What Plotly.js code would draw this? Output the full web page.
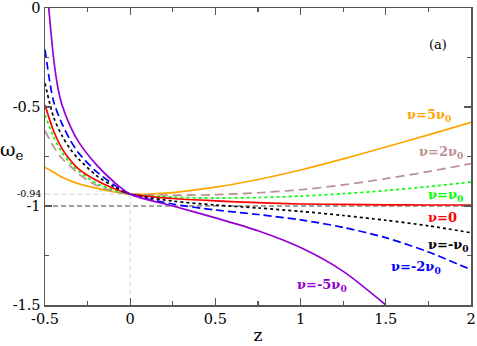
<!DOCTYPE html>
<html>
<head>
<meta charset="utf-8">
<script src="https://cdn.plot.ly/plotly-3.0.1.min.js"></script>
<style>
  html, body { margin: 0; padding: 0; background: #fff; }
  #chart { width: 477px; height: 346px; }
</style>
</head>
<body>
<div id="chart"></div>
<script>
'use strict';

/* global Plotly */

// redshift samples
const z = [-0.5, -0.45, -0.4, -0.35, -0.3, -0.2, -0.1, 0, 0.25, 0.5, 0.75, 1, 1.25, 1.5, 1.75, 2];

const omegaNu5 = [-0.805, -0.83, -0.855, -0.873, -0.888, -0.91, -0.928, -0.94, -0.932, -0.905, -0.866, -0.818, -0.762, -0.702, -0.641, -0.578];
const omegaNu2 = [-0.62, -0.7, -0.76, -0.8, -0.84, -0.895, -0.925, -0.94, -0.945, -0.943, -0.933, -0.918, -0.893, -0.862, -0.826, -0.786];
const omegaNu1 = [-0.54, -0.65, -0.73, -0.785, -0.825, -0.885, -0.918, -0.94, -0.955, -0.96, -0.957, -0.95, -0.938, -0.922, -0.902, -0.879];
const omegaNu0 = [-0.49, -0.62, -0.71, -0.77, -0.815, -0.87, -0.91, -0.94, -0.962, -0.974, -0.983, -0.99, -0.992, -0.994, -0.995, -0.995];
const omegaNuM1 = [-0.38, -0.55, -0.645, -0.715, -0.765, -0.845, -0.9, -0.94, -0.975, -0.995, -1.01, -1.027, -1.048, -1.072, -1.1, -1.135];
const omegaNuM2 = [-0.21, -0.47, -0.585, -0.67, -0.735, -0.825, -0.89, -0.94, -0.99, -1.02, -1.043, -1.07, -1.108, -1.16, -1.232, -1.322];

// the nu = -5 nu0 curve leaves the frame, so it has its own samples
const zNuM5 = [-0.478, -0.45, -0.425, -0.4, -0.35, -0.3, -0.2, -0.1, 0, 0.25, 0.5, 0.75, 1, 1.25, 1.5];
const omegaNuM5 = [0, -0.25, -0.4, -0.49, -0.6, -0.68, -0.79, -0.875, -0.94, -1.0, -1.06, -1.125, -1.21, -1.33, -1.5];

const curveLabels = ['ν=5ν<sub>0</sub>', 'ν=2ν<sub>0</sub>', 'ν=ν<sub>0</sub>', 'ν=0', 'ν=-ν<sub>0</sub>', 'ν=-2ν<sub>0</sub>', 'ν=-5ν<sub>0</sub>'];
const labelZ = [1.615, 1.685, 1.735, 1.735, 1.735, 1.52, 0.97];
const labelOmega = [-0.545, -0.73, -0.945, -1.06, -1.2, -1.31, -1.40];

const xTickVals = [-0.5, 0, 0.5, 1, 1.5, 2];
const xTickText = ['-0.5', '0', '0.5', '1', '1.5', '2'];
const yTickVals = [0, -0.5, -1, -1.5];
const yTickText = ['0', '-0.5', '-1', '-1.5'];

const omegaToday = -0.94;
const omegaLambda = -1;

const serif = 'DejaVu Serif, serif';

const styles = [
  {color: '#ffa500', dash: 'solid'},
  {color: '#bc8f8f', dash: '9px,5px'},
  {color: '#00ff00', dash: 'dot'},
  {color: '#ff0000', dash: 'solid'},
  {color: '#000000', dash: 'dot'},
  {color: '#0000ff', dash: '8px,4px'},
  {color: '#9400d3', dash: 'solid'}
];

const series = [
  [z, omegaNu5],
  [z, omegaNu2],
  [z, omegaNu1],
  [z, omegaNu0],
  [z, omegaNuM1],
  [z, omegaNuM2],
  [zNuM5, omegaNuM5]
];

const data = series.map(([xs, ys], i) => ({
  x: xs,
  y: ys,
  type: 'scatter',
  mode: 'lines',
  line: {color: styles[i].color, dash: styles[i].dash, width: 1.7, shape: 'spline', smoothing: 0.8},
  hoverinfo: 'skip'
}));

const annotations = curveLabels.map((text, i) => ({
  x: labelZ[i],
  y: labelOmega[i],
  xref: 'x',
  yref: 'y',
  text: '<b>' + text + '</b>',
  showarrow: false,
  xanchor: 'left',
  yanchor: 'middle',
  font: {family: serif, size: 13, color: styles[i].color}
}));

annotations.push(
  {x: 1.807, y: -0.185, xref: 'x', yref: 'y', text: '(a)', showarrow: false,
    font: {family: serif, size: 13, color: '#000'}},
  {x: 0, y: omegaToday, xref: 'paper', yref: 'y', text: '-0.94', showarrow: false,
    xanchor: 'right', xshift: -2, yshift: 1, font: {family: serif, size: 9.5, color: '#000'}},
  {x: -0.077, y: -0.72, xref: 'paper', yref: 'y', text: 'ω<sub>e</sub>', showarrow: false,
    xanchor: 'center', font: {family: serif, size: 19, color: '#000'}}
);

const shapes = [
  {type: 'line', xref: 'paper', yref: 'y', x0: 0, x1: 1, y0: omegaLambda, y1: omegaLambda,
    line: {color: '#444', width: 1.2, dash: '5px,3px'}, layer: 'below'},
  {type: 'line', xref: 'x', yref: 'y', x0: -0.5, x1: 0, y0: omegaToday, y1: omegaToday,
    line: {color: '#dcdcdc', width: 1.2, dash: '5px,3px'}, layer: 'below'},
  {type: 'line', xref: 'x', yref: 'y', x0: 0, x1: 0, y0: omegaToday, y1: -1.5,
    line: {color: '#dcdcdc', width: 1.2, dash: '5px,3px'}, layer: 'below'}
];

const axisCommon = {
  showgrid: false,
  zeroline: false,
  showline: true,
  linecolor: '#555',
  linewidth: 1.5,
  mirror: 'ticks',
  ticks: 'inside',
  ticklen: 7,
  tickwidth: 1.2,
  tickcolor: '#555',
  tickmode: 'array',
  tickfont: {family: serif, size: 14.5, color: '#000'}
};

const layout = {
  width: 477,
  height: 346,
  margin: {l: 45, r: 6, t: 8, b: 41},
  paper_bgcolor: '#fff',
  plot_bgcolor: '#fff',
  showlegend: false,
  font: {family: serif},
  xaxis: Object.assign({}, axisCommon, {
    range: [-0.5, 2],
    tickvals: xTickVals,
    ticktext: xTickText,
    minor: {tick0: -0.5, dtick: 0.25, ticks: 'inside', ticklen: 4, tickcolor: '#555', showgrid: false},
    title: {text: 'z', font: {family: serif, size: 17, color: '#000'}, standoff: 3}
  }),
  yaxis: Object.assign({}, axisCommon, {
    range: [-1.5, 0],
    tickvals: yTickVals,
    ticktext: yTickText,
    minor: {tick0: 0, dtick: 0.25, ticks: 'inside', ticklen: 4, tickcolor: '#555', showgrid: false}
  }),
  shapes,
  annotations
};

Plotly.newPlot('chart', data, layout, {displayModeBar: false, staticPlot: true});
</script>
</body>
</html>
